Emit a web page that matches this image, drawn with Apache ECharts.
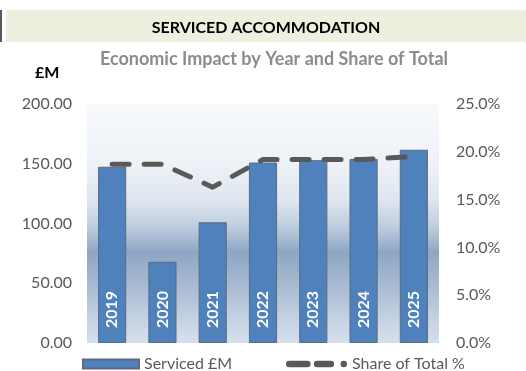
<!DOCTYPE html>
<html>
<head>
<meta charset="utf-8">
<script src="https://cdn.jsdelivr.net/npm/echarts@6/dist/echarts.min.js"></script>
<style>
  html, body { margin: 0; padding: 0; background: #ffffff; }
  #chart { width: 526px; height: 371px; }
</style>
</head>
<body>
<div id="chart"></div>
<script>
// Serviced accommodation: economic impact (£M) and share of total (%)
const years = ['2019', '2020', '2021', '2022', '2023', '2024', '2025'];
const servicedGBPm = [147.5, 68.0, 101.0, 151.0, 153.0, 154.0, 161.7];
const sharePct = [18.7, 18.7, 16.3, 19.2, 19.2, 19.2, 19.5];
const leftTicks = [0, 50, 100, 150, 200];
const rightTicks = [0, 5, 10, 15, 20, 25];

const FONT = 'Lato, "Open Sans", sans-serif';
const GREY = '#595959';

// legend glyph for the dashed share line: two dashes and a dot
const DASH_ICON = 'path://M3,0 H20 A3,3 0 0 1 20,6 H3 A3,3 0 0 1 3,0 Z ' +
                  'M29,0 H42 A3,3 0 0 1 42,6 H29 A3,3 0 0 1 29,0 Z ' +
                  'M54,0 A3,3 0 0 1 54,6 A3,3 0 0 1 54,0 Z';

const chart = echarts.init(document.getElementById('chart'), null, { renderer: 'canvas' });

chart.setOption({
  animation: false,
  backgroundColor: '#ffffff',
  textStyle: { fontFamily: FONT },
  graphic: [
    // header band
    { type: 'rect', left: 6, top: 10, shape: { width: 520, height: 32 }, style: { fill: '#ebf1de' }, z: 0 },
    { type: 'rect', left: 0, top: 10, shape: { width: 2, height: 32 }, style: { fill: '#595959' }, z: 0 }
  ],
  title: [
    {
      text: 'SERVICED ACCOMMODATION',
      left: 261, top: 15, textAlign: 'center',
      textStyle: { fontFamily: FONT, fontWeight: 'bold', fontSize: 16, color: '#000000' }
    },
    {
      text: 'Economic Impact by Year and Share of Total',
      left: 269, top: 45, textAlign: 'center',
      textStyle: { fontFamily: FONT, fontWeight: 'bold', fontSize: 18, color: '#8c8c8c' }
    },
    {
      text: '£M',
      left: 30, top: 60,
      textStyle: { fontFamily: FONT, fontWeight: 'bold', fontSize: 16, color: '#000000' }
    }
  ],
  legend: [
    {
      data: [{ name: 'Serviced £M', icon: 'rect' }],
      left: 77, top: 351,
      itemWidth: 56, itemHeight: 9, itemGap: 6,
      textStyle: { fontFamily: FONT, fontSize: 16, color: GREY }
    },
    {
      data: [{ name: 'Share of Total %', icon: DASH_ICON }],
      left: 281, top: 351,
      itemWidth: 61, itemHeight: 7, itemGap: 4,
      itemStyle: { color: GREY, borderWidth: 0 },
      textStyle: { fontFamily: FONT, fontSize: 16, color: GREY }
    }
  ],
  grid: {
    left: 87, right: 87, top: 104, bottom: 28,
    show: true, borderWidth: 0,
    backgroundColor: new echarts.graphic.LinearGradient(0, 0, 0, 1, [
      { offset: 0, color: '#f7f9fc' },
      { offset: 0.25, color: '#eef2f7' },
      { offset: 0.4, color: '#dfe6ef' },
      { offset: 0.52, color: '#bccbdd' },
      { offset: 0.62, color: '#8ea6c4' },
      { offset: 0.75, color: '#a7b9d0' },
      { offset: 0.9, color: '#c4d2e3' },
      { offset: 1, color: '#d6e0ec' }
    ])
  },
  xAxis: {
    type: 'category',
    data: years,
    axisLine: { show: false },
    axisTick: { show: false },
    axisLabel: { show: false }
  },
  yAxis: [
    {
      type: 'value',
      min: leftTicks[0], max: leftTicks[leftTicks.length - 1], interval: 50,
      splitLine: { show: false },
      axisLine: { show: false },
      axisTick: { show: false },
      axisLabel: {
        margin: 15,
        fontFamily: FONT, fontSize: 16, color: GREY,
        formatter: v => v.toFixed(2)
      }
    },
    {
      type: 'value',
      min: rightTicks[0], max: rightTicks[rightTicks.length - 1], interval: 5,
      splitLine: { show: false },
      axisLine: { show: false },
      axisTick: { show: false },
      axisLabel: {
        margin: 17,
        fontFamily: FONT, fontSize: 16, color: GREY,
        formatter: v => v.toFixed(1) + '%'
      }
    }
  ],
  series: [
    {
      name: 'Serviced £M',
      type: 'bar',
      data: servicedGBPm,
      yAxisIndex: 0,
      barWidth: '56%',
      itemStyle: { color: '#4f81bd', borderColor: '#5b6b80', borderWidth: 1 },
      label: {
        show: true,
        formatter: '{b}',
        position: 'insideBottom',
        distance: 15,
        rotate: 90,
        align: 'left',
        verticalAlign: 'middle',
        color: '#ffffff',
        fontFamily: FONT,
        fontWeight: 'bold',
        fontSize: 16
      },
      z: 2
    },
    {
      name: 'Share of Total %',
      type: 'line',
      data: sharePct,
      yAxisIndex: 1,
      symbol: 'none',
      lineStyle: { color: GREY, width: 5, type: [17, 15], cap: 'round', join: 'round' },
      itemStyle: { color: GREY },
      z: 3
    }
  ]
});
</script>
</body>
</html>
